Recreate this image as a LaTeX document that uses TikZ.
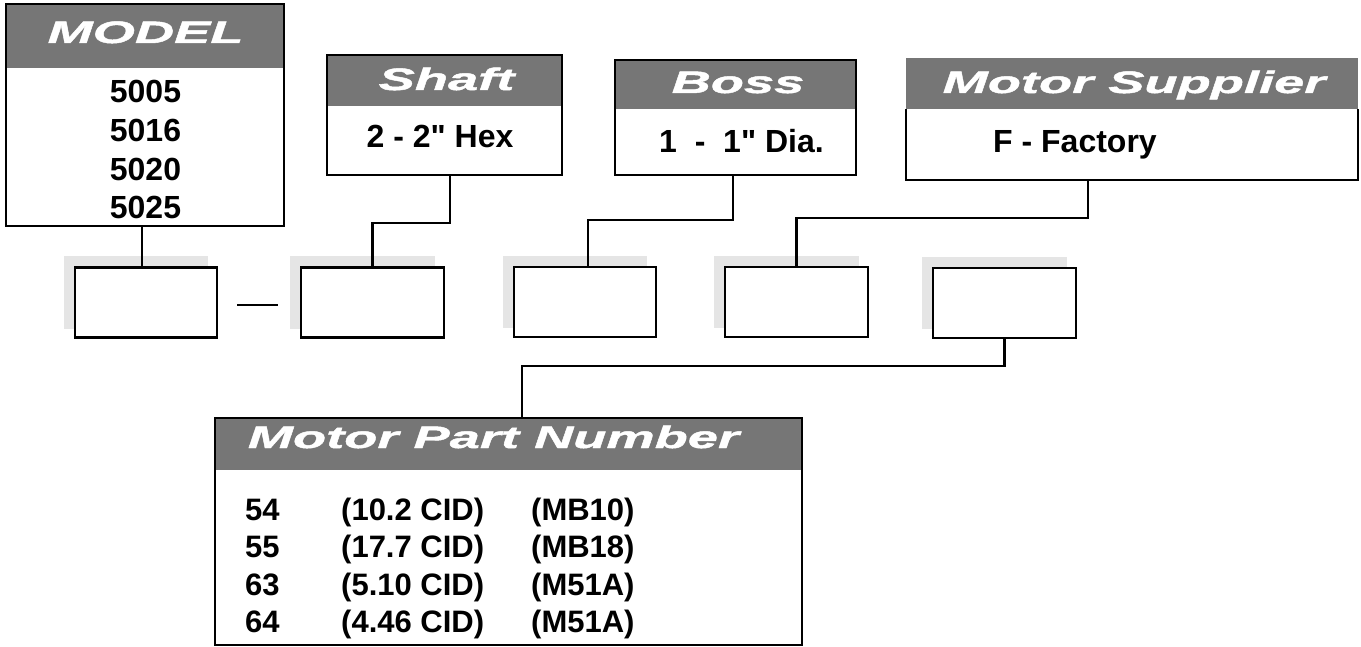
\documentclass[tikz,border=0pt]{standalone}
\usepackage{fontspec}
\setmainfont{Liberation Sans}[Ligatures=TeXOff]
\newfontfamily\hdrfont[FakeStretch=1.75,FakeBold=1.5]{Liberation Sans}
\usetikzlibrary{calc,backgrounds}
\definecolor{hdrgray}{RGB}{118,118,118}
\definecolor{shadowgray}{RGB}{229,229,229}
\tikzset{
  lw/.style={line width=2.8},
  wire/.style={line width=2.8, line join=miter},
  slot/.style={draw, line width=2.8, fill=white, inner sep=0, outer sep=0,
               minimum width=142, minimum height=70},
  frame/.style={inner sep=0, outer sep=0},
  hdr/.style={inner sep=0, text=white, anchor=base,
              font=\hdrfont\bfseries\itshape\fontsize{31}{31}\selectfont},
  body/.style={inner sep=0, anchor=base,
               font=\bfseries\fontsize{32}{32}\selectfont},
  row/.style={inner sep=0, anchor=base west,
              font=\bfseries\fontsize{31}{31}\selectfont},
  shade/.style={fill=shadowgray}
}
\begin{document}
\begin{tikzpicture}[x=1pt,y=-1pt]
\useasboundingbox (0,0) rectangle (1361,647);

% ---------- header boxes ----------
\node[frame, minimum width=278, minimum height=222] (model) at (145,115) {};
\fill[hdrgray] (model.north west) rectangle ([yshift=-64]model.north east);
\draw[lw] (model.north west) rectangle (model.south east);

\node[frame, minimum width=235, minimum height=120] (shaft) at (444.5,115) {};
\fill[hdrgray] (shaft.north west) rectangle ([yshift=-51]shaft.north east);
\draw[lw] (shaft.north west) rectangle (shaft.south east);

\node[frame, minimum width=241, minimum height=115] (boss) at (735.5,117.5) {};
\fill[hdrgray] (boss.north west) rectangle ([yshift=-49]boss.north east);
\draw[lw] (boss.north west) rectangle (boss.south east);

\node[frame, minimum width=452, minimum height=122] (ms) at (1132,119) {};
\fill[hdrgray] (ms.north west) rectangle ([yshift=-51]ms.north east);
\draw[lw] ([yshift=-51]ms.north west) -- (ms.south west) -- (ms.south east)
          -- ([yshift=-51]ms.north east);

\node[frame, minimum width=587, minimum height=227] (mpn) at (508.5,531.5) {};
\fill[hdrgray] (mpn.north west) rectangle ([yshift=-52]mpn.north east);
\draw[lw] (mpn.north west) rectangle (mpn.south east);

% ---------- header texts ----------
\node[hdr] (tmodel) at (145.5,43) {MODEL};
\node[hdr] (tshaft) at (446.5,90) {Shaft};
\node[hdr] (tboss) at (738,93) {Boss};
\node[hdr] (tms) at (1134,93) {Motor Supplier};
\node[hdr] (tmpn) at (493.5,448) {Motor Part Number};

% ---------- body texts ----------
\node[body] (m1) at (145.5,103) {5005};
\node[body] (m2) at (145.5,142) {5016};
\node[body] (m3) at (145.5,181) {5020};
\node[body] (m4) at (145.5,219) {5025};
\node[body] (sh) at (440,148) {2 - 2" Hex};
\node[body] (bo) at (741.5,153) {1\ \ -\ \ 1" Dia.};
\node[body, anchor=base west] (fa) at (993,153) {F - Factory};

\node[row] (r1a) at (245,520) {54};
\node[row] (r1b) at (341,520) {(10.2 CID)};
\node[row] (r1c) at (531,520) {(MB10)};
\node[row] (r2a) at (245,557.5) {55};
\node[row] (r2b) at (341,557.5) {(17.7 CID)};
\node[row] (r2c) at (531,557.5) {(MB18)};
\node[row] (r3a) at (245,595) {63};
\node[row] (r3b) at (341,595) {(5.10 CID)};
\node[row] (r3c) at (531,595) {(M51A)};
\node[row] (r4a) at (245,632) {64};
\node[row] (r4b) at (341,632) {(4.46 CID)};
\node[row] (r4c) at (531,632) {(M51A)};

% ---------- code slots ----------
\node[slot] (b1) at (146,302.5) {};
\node[slot, minimum width=143] (b2) at (372.5,302.5) {};
\node[slot] (b3) at (585,302) {};
\node[slot, minimum width=143] (b4) at (796.5,302) {};
\node[slot, minimum width=143] (b5) at (1004.5,303) {};

\begin{scope}[on background layer]
  \foreach \b in {b1,b2,b3,b4,b5}
    \fill[shade] ([xshift=-11,yshift=11]\b.north west)
                 rectangle ([xshift=-9,yshift=9]\b.south east);
\end{scope}

% ---------- connectors ----------
\draw[wire] ([xshift=-3]model.south) -- ([xshift=-4]b1.north);
\draw[wire] ([xshift=5.5]shaft.south) -- ++(0,48) -| (b2.north);
\draw[wire] ([xshift=-2.5]boss.south) -- ++(0,45) -| ([xshift=3]b3.north);
\draw[wire] ([xshift=-44]ms.south) -- ++(0,38) -| (b4.north);
\draw[wire] (b5.south) -- ++(0,28) -| ([xshift=13.5]mpn.north);
\draw[wire] ([xshift=20,yshift=-2.5]b1.east) -- ([xshift=-23,yshift=-2.5]b2.west);
\end{tikzpicture}
\end{document}
